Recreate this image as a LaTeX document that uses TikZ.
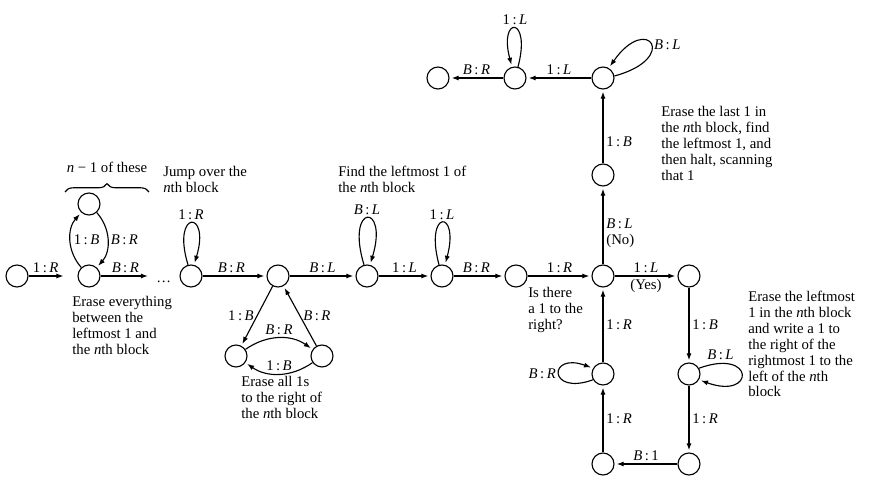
\documentclass[tikz,border=0pt]{standalone}
\usepackage{fontspec}
\setmainfont{Liberation Serif}
\usetikzlibrary{arrows.meta,positioning,decorations.pathreplacing}
\newcommand{\rw}[2]{#1\,:\,\textit{#2}}
\newcommand{\sB}{\textit{B}}
\newcommand{\nthb}{\textit{n}th}

\begin{document}
\begin{tikzpicture}[x=0.25mm,y=0.25mm,
    every node/.style={font=\fontsize{10.5}{11.3}\selectfont},
    state/.style={draw,circle,line width=0.8pt,minimum size=5.5mm,inner sep=0pt},
    trans/.style={line width=0.8pt,-{Latex[length=5pt,width=3.6pt]},shorten >=1.5pt},
    lab/.style={inner sep=2pt},
    note/.style={align=left,anchor=north west,inner sep=0pt}]
  \useasboundingbox (0,0) rectangle (882,482);

  % main row
  \node[state] (s0) at (17,206) {};
  \node[state] (s1) at (89,206) {};
  \node[state] (s1u) at (89,278) {};
  \coordinate (gap) at (150,206);
  \node[anchor=base west,inner sep=0pt] (dots) at (156,199) {\dots};
  \node[state] (s2) at (191,206) {};
  \node[state] (s3) at (278,206) {};
  \node[state] (s4) at (367,206) {};
  \node[state] (s5) at (442,206) {};
  \node[state] (s6) at (516,206) {};
  \node[state] (hub) at (603,206) {};
  \node[state] (r1) at (689,206) {};
  % erasing loop below s3
  \node[state] (e1) at (236,126) {};
  \node[state] (e2) at (322,126) {};
  % halting branch
  \node[state] (h1) at (603,307) {};
  \node[state] (h2) at (603,404) {};
  \node[state] (h3) at (515,404) {};
  \node[state] (h4) at (438,404) {};
  % shifting branch
  \node[state] (r2) at (689,108) {};
  \node[state] (r3) at (689,18) {};
  \node[state] (l3) at (603,18) {};
  \node[state] (l2) at (603,108) {};

  % comments
  \node[note] (t1) at (72,186) {Erase everything\\between the\\leftmost 1 and\\the \nthb\ block};
  \node[note] (t2) at (163,316) {Jump over the\\\nthb\ block};
  \node[note] (t3) at (338,316) {Find the leftmost 1 of\\the \nthb\ block};
  \node[note] (t4) at (528,195) {Is there\\a 1 to the\\right?};
  \node[note] (t5) at (241,106) {Erase all 1s\\to the right of\\the \nthb\ block};
  \node[note] (t6) at (661,376) {Erase the last 1 in\\the \nthb\ block, find\\the leftmost 1, and\\then halt, scanning\\that 1};
  \node[note] (t7) at (748,191) {Erase the leftmost\\1 in the \nthb\ block\\and write a 1 to\\the right of the\\rightmost 1 to the\\left of the \nthb\\block};
  \node (cnt) at (107,315) {\textit{n} − 1 of these};
  \draw[line width=0.8pt,decorate,decoration={brace,amplitude=6pt}] (65,290) -- (149,290);

  % transitions, main row
  \draw[trans,shorten >=3.5mm] (s0) -- node[lab,above,pos=0.35]{\rw{1}{R}} (s1);
  \draw[trans] (s1) to[bend left=42] node[lab,right]{\rw{1}{B}} (s1u);
  \draw[trans] (s1u) to[bend left=42] node[lab,right]{\rw{\sB}{R}} (s1);
  \draw[trans] (s1) -- node[lab,above]{\rw{\sB}{R}} (gap);
  \draw[trans] (s2.105) .. controls +(107:58) and +(73:58) .. node[lab,above]{\rw{1}{R}} (s2.75);
  \draw[trans] (s2) -- node[lab,above,pos=0.45]{\rw{\sB}{R}} (s3);
  \draw[trans] (s3) -- node[lab,above]{\rw{\sB}{L}} (s4);
  \draw[trans] (s4.105) .. controls +(107:65) and +(73:65) .. node[lab,above]{\rw{\sB}{L}} (s4.75);
  \draw[trans] (s4) -- node[lab,above]{\rw{1}{L}} (s5);
  \draw[trans] (s5.105) .. controls +(105:58) and +(75:58) .. node[lab,above]{\rw{1}{L}} (s5.75);
  \draw[trans] (s5) -- node[lab,above,pos=0.45]{\rw{\sB}{R}} (s6);
  \draw[trans] (s6) -- node[lab,above]{\rw{1}{R}} (hub);
  \draw[trans] (hub) -- node[lab,above]{\rw{1}{L}} node[lab,below]{(Yes)} (r1);

  % erasing loop
  \draw[trans] (s3) -- node[lab,left]{\rw{1}{B}} (e1);
  \draw[trans] (e2) -- node[lab,right]{\rw{\sB}{R}} (s3);
  \draw[trans] (e1) to[bend left=35] node[lab,above]{\rw{\sB}{R}} (e2);
  \draw[trans] (e2) to[bend left=35] node[lab,above]{\rw{1}{B}} (e1);

  % halting branch
  \draw[trans] (hub) -- node[lab,right,pos=0.4,align=left]{\rw{\sB}{L}\\(No)} (h1);
  \draw[trans] (h1) -- node[lab,right,pos=0.3]{\rw{1}{B}} (h2);
  \draw[trans] (h2.10) .. controls +(15:68) and +(55:68) .. node[lab,right]{\rw{\sB}{L}} (h2.60);
  \draw[trans] (h2) -- node[lab,above]{\rw{1}{L}} (h3);
  \draw[trans] (h3.75) .. controls +(75:53) and +(105:53) .. node[lab,above]{\rw{1}{L}} (h3.105);
  \draw[trans] (h3) -- node[lab,above]{\rw{\sB}{R}} (h4);

  % shifting branch
  \draw[trans] (r1) -- node[lab,right]{\rw{1}{B}} (r2);
  \draw[trans] (r2.30) .. controls +(20:60) and +(340:60) .. node[lab,above,pos=0.15]{\rw{\sB}{L}} (r2.330);
  \draw[trans] (r2) -- node[lab,right]{\rw{1}{R}} (r3);
  \draw[trans] (r3) -- node[lab,above]{\sB\,:\,1} (l3);
  \draw[trans] (l3) -- node[lab,right]{\rw{1}{R}} (l2);
  \draw[trans] (l2.210) .. controls +(200:48) and +(160:48) .. node[lab,left]{\rw{\sB}{R}} (l2.150);
  \draw[trans] (l2) -- node[lab,right]{\rw{1}{R}} (hub);
\end{tikzpicture}
\end{document}
